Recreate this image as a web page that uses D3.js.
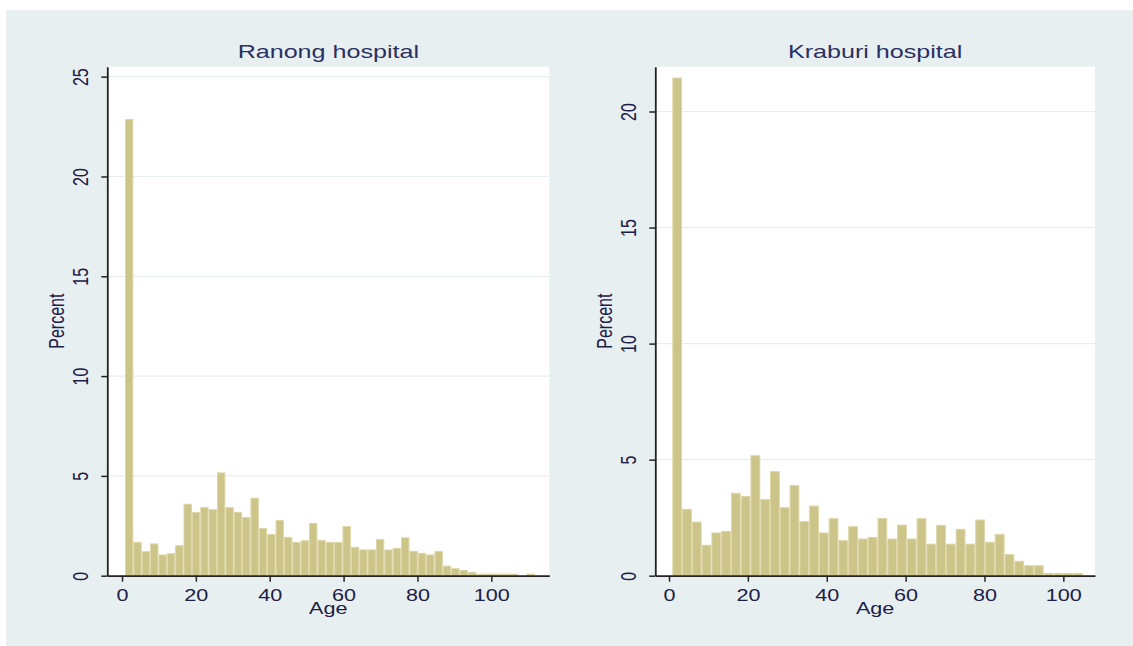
<!DOCTYPE html>
<html>
<head>
<meta charset="utf-8">
<script src="https://d3js.org/d3.v7.min.js"></script>
<style>
  body { margin: 0; background: #fff; }
  svg text { font-family: "Liberation Sans", Arial, sans-serif; fill: #1c2046; }
</style>
</head>
<body>
<svg width="1133" height="646"></svg>
<script>
// age histograms, percent per bin
const ranongPct = [22.85, 1.67, 1.2, 1.59, 1.04, 1.1, 1.5, 3.58, 3.17, 3.41,
  3.31, 5.15, 3.41, 3.17, 2.92, 3.88, 2.37, 2.06, 2.77, 1.92,
  1.67, 1.75, 2.62, 1.77, 1.67, 1.67, 2.46, 1.42, 1.29, 1.29,
  1.82, 1.29, 1.37, 1.9, 1.22, 1.12, 1.04, 1.22, 0.48, 0.35,
  0.27, 0.17, 0.08, 0.08, 0.08, 0.08, 0.08, 0, 0.08];
const kraburiPct = [21.44, 2.86, 2.31, 1.31, 1.84, 1.91, 3.55, 3.41, 5.17, 3.28,
  4.48, 2.93, 3.88, 2.33, 3.0, 1.84, 2.46, 1.51, 2.11, 1.58,
  1.65, 2.46, 1.58, 2.18, 1.58, 2.46, 1.36, 2.17, 1.36, 2.0,
  1.36, 2.4, 1.44, 1.78, 0.91, 0.62, 0.43, 0.43, 0.1, 0.1,
  0.1, 0.1];
// bin definition: first edge and width (years)
const ranongBin = { start: 0.81, width: 2.265 };
const kraburiBin = { start: 0.84, width: 2.478 };

const xTicks = [0, 20, 40, 60, 80, 100];
const ranongYTicks = [0, 5, 10, 15, 20, 25];
const kraburiYTicks = [0, 5, 10, 15, 20];

const SX = 1.35; // picture is stretched sideways
const svg = d3.select("svg");

svg.append("rect").attr("x", 6).attr("y", 10).attr("width", 1127).attr("height", 636)
  .attr("fill", "#e8eff1");

function panel(opt) {
  const x = d3.scaleLinear().domain(opt.xDomain).range([opt.left, opt.right]);
  const y = d3.scaleLinear().domain(opt.yDomain).range([opt.bottom, opt.top]);

  svg.append("rect").attr("x", opt.left).attr("y", opt.top)
    .attr("width", opt.right - opt.left).attr("height", opt.bottom - opt.top)
    .attr("fill", "#fff");

  // grid
  svg.append("g").selectAll("line").data(opt.yTicks.filter(d => d > 0)).enter().append("line")
    .attr("x1", opt.left).attr("x2", opt.right)
    .attr("y1", d => y(d)).attr("y2", d => y(d))
    .attr("stroke", "#e6eef1").attr("stroke-width", 1.2);

  // bars
  svg.append("g").selectAll("rect").data(opt.values).enter().append("rect")
    .attr("x", (d, i) => x(opt.bin.start + i * opt.bin.width) + 0.5)
    .attr("width", (d, i) => x(opt.bin.start + (i + 1) * opt.bin.width) - x(opt.bin.start + i * opt.bin.width) - 1)
    .attr("y", d => y(d))
    .attr("height", d => Math.max(0, y(0) - y(d)))
    .attr("fill", "#cdc48a")
    .attr("stroke", "#ddd6a6")
    .attr("stroke-width", 1);

  // axes
  const ax = svg.append("g").attr("transform", "translate(0," + opt.bottom + ")")
    .call(d3.axisBottom(x).tickValues(xTicks).tickSize(6).tickSizeOuter(0));
  ax.select(".domain").attr("stroke", "#222").attr("stroke-width", 1.8);
  ax.selectAll(".tick line").attr("stroke", "#222").attr("stroke-width", 1.5);
  ax.selectAll(".tick text").attr("y", 0).attr("dy", "0.35em")
    .attr("transform", "translate(0,19.5) scale(" + SX + ",1)")
    .style("font-size", "16px").style("fill", "#1c2046");

  const ay = svg.append("g").attr("transform", "translate(" + opt.left + ",0)")
    .call(d3.axisLeft(y).tickValues(opt.yTicks).tickSize(6).tickSizeOuter(0));
  ay.select(".domain").attr("stroke", "#222").attr("stroke-width", 1.8);
  ay.selectAll(".tick line").attr("stroke", "#222").attr("stroke-width", 1.5);
  ay.selectAll(".tick text").attr("x", 0).attr("dy", "0.35em").attr("text-anchor", "middle")
    .attr("transform", "translate(-27,0) scale(" + SX + ",1) rotate(-90)")
    .style("font-size", "16px").style("fill", "#1c2046");

  const cx = (opt.left + opt.right) / 2;
  svg.append("text").attr("text-anchor", "middle").attr("dy", "0.35em")
    .attr("transform", "translate(" + cx + ",51) scale(" + SX + ",1)")
    .style("font-size", "18.6px").style("fill", "#2a3062")
    .text(opt.title);

  svg.append("text").attr("text-anchor", "middle")
    .attr("transform", "translate(" + cx + ",614) scale(" + SX + ",1)")
    .style("font-size", "16px")
    .text("Age");

  svg.append("text").attr("text-anchor", "middle").attr("dy", "0.35em")
    .attr("transform", "translate(" + (opt.left - 51) + "," + ((opt.top + opt.bottom) / 2) + ") scale(" + SX + ",1) rotate(-90)")
    .style("font-size", "16px")
    .text("Percent");
}

panel({
  title: "Ranong hospital", values: ranongPct, bin: ranongBin, yTicks: ranongYTicks,
  left: 107.3, right: 549.3, top: 66.7, bottom: 575.7,
  xDomain: [-3.98, 115.7], yDomain: [0, 25.5]
});
panel({
  title: "Kraburi hospital", values: kraburiPct, bin: kraburiBin, yTicks: kraburiYTicks,
  left: 655.3, right: 1095, top: 66.7, bottom: 575.7,
  xDomain: [-3.48, 108.03], yDomain: [0, 21.93]
});
</script>
</body>
</html>
